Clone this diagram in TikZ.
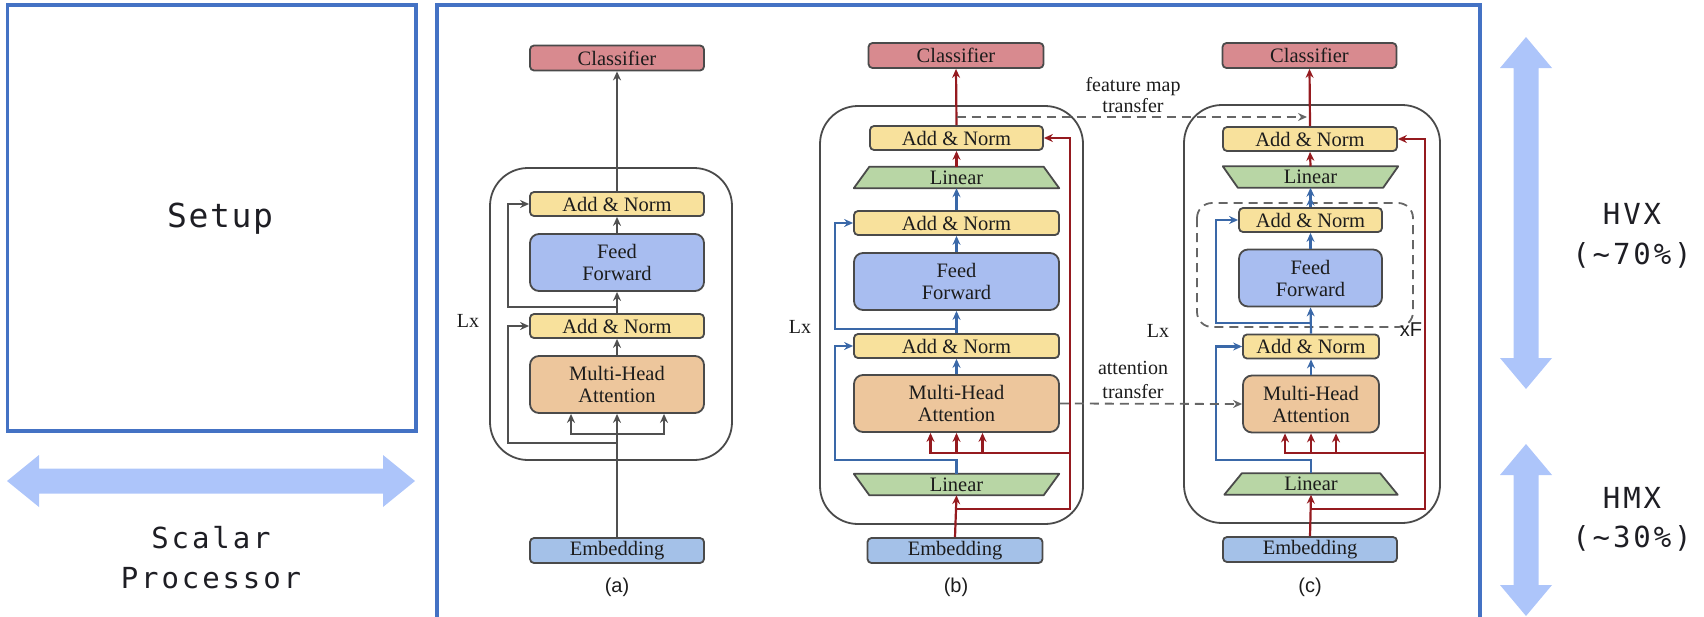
\documentclass[tikz,border=0pt]{standalone}
\usepackage{fontspec}
\setmainfont{Liberation Serif}
\newfontfamily\sansf{Liberation Sans}
\newfontfamily\pixf{DejaVu Sans Mono}[LetterSpace=10]
\newfontfamily\pixbig{DejaVu Sans Mono}[LetterSpace=5]
\usetikzlibrary{arrows.meta,backgrounds}

\definecolor{frameblue}{HTML}{4472C4}
\definecolor{bigarrow}{HTML}{ADC5FA}
\definecolor{pixtext}{HTML}{1E1E24}
\definecolor{txt}{HTML}{1C1C1C}
\definecolor{boxline}{HTML}{4A4A4A}
\definecolor{clsfill}{HTML}{D88A8F}
\definecolor{anfill}{HTML}{F8E19C}
\definecolor{fffill}{HTML}{A8BDF0}
\definecolor{mhafill}{HTML}{EDC69C}
\definecolor{linfill}{HTML}{B8D6A5}
\definecolor{embfill}{HTML}{A4C1E8}
\definecolor{gline}{HTML}{505050}
\definecolor{bline}{HTML}{3A68A8}
\definecolor{rline}{HTML}{951A1F}
\definecolor{dashline}{HTML}{666666}

% trapezoid outline behind a named text node: #2 = inset at top, #3 = inset at bottom
\newcommand\linearshape[3]{%
  \begin{pgfonlayer}{background}
    \filldraw[fill=linfill, draw=boxline, line width=1.8pt, line join=round]
      ([xshift=#2pt]#1.north west) -- ([xshift=-#2pt]#1.north east)
      -- ([xshift=-#3pt]#1.south east) -- ([xshift=#3pt]#1.south west) -- cycle;
  \end{pgfonlayer}}

\begin{document}
\begin{tikzpicture}[x=1pt,y=-1pt,
  tip/.style={-{Stealth[length=9pt,width=8pt,inset=3pt]}},
  ga/.style={tip, draw=gline, line width=2.2pt},
  ba/.style={tip, draw=bline, line width=2.2pt},
  ba2/.style={-{Stealth[length=9pt,width=8pt,inset=3pt] Stealth[length=9pt,width=8pt,inset=3pt]}, draw=bline, line width=2.2pt},
  ra/.style={tip, draw=rline, line width=2.2pt},
  da/.style={tip, draw=dashline, line width=1.8pt, dash pattern=on 9pt off 6pt},
  box/.style={draw=boxline, line width=1.8pt, rounded corners=4pt, inner sep=0pt,
    align=center, text=txt, font=\fontsize{20.5}{22}\selectfont},
  an/.style={box, fill=anfill, minimum height=24pt},
  ff/.style={box, fill=fffill, rounded corners=9pt, minimum height=57pt},
  mha/.style={box, fill=mhafill, rounded corners=9pt, minimum height=57pt},
  cls/.style={box, fill=clsfill, minimum height=25pt},
  emb/.style={box, fill=embfill, minimum height=25pt},
  lin/.style={inner sep=0pt, minimum height=21pt, text=txt, font=\fontsize{20.5}{22}\selectfont},
  cont/.style={draw=boxline, line width=1.8pt, rounded corners=38pt, inner sep=0pt},
  lbl/.style={text=txt, font=\fontsize{20}{22}\selectfont},
  sublbl/.style={text=txt, font=\sansf\fontsize{20}{22}\selectfont},
  pix/.style={text=pixtext, align=center},
]
\useasboundingbox (0,0) rectangle (1704,616);

% ---------- scalar processor side ----------
\node[draw=frameblue, line width=3.5pt, minimum width=408.5pt, minimum height=426pt, inner sep=0pt] (setup) at (211.75,218) {};
\node[pix, font=\pixbig\fontsize{33}{33}\selectfont] (setuptxt) at (220,219) {Setup};
\fill[bigarrow] (7,481) -- (39,455) -- (39,468.5) -- (383,468.5) -- (383,455) -- (415,481)
  -- (383,507) -- (383,493.5) -- (39,493.5) -- (39,507) -- cycle;
\node[pix, font=\pixf\fontsize{29}{40}\selectfont] (scalar) at (211,558) {Scalar\\Processor};

% ---------- vector / matrix units ----------
\node[draw=frameblue, line width=4pt, minimum width=1043pt, minimum height=613.7pt, inner sep=0pt] (panel) at (958.5,312.15) {};
\fill[bigarrow] (1526,37) -- (1552,68) -- (1538.5,68) -- (1538.5,358) -- (1552,358) -- (1526,389)
  -- (1500,358) -- (1513.5,358) -- (1513.5,68) -- (1500,68) -- cycle;
\fill[bigarrow] (1526,444) -- (1552,475) -- (1538.5,475) -- (1538.5,585) -- (1552,585) -- (1526,616)
  -- (1500,585) -- (1513.5,585) -- (1513.5,475) -- (1500,475) -- cycle;
\node[pix, font=\pixf\fontsize{29}{40}\selectfont] (hvx) at (1632,236) {HVX\\(\textasciitilde70\%)};
\node[pix, font=\pixf\fontsize{29}{39}\selectfont] (hmx) at (1632,519) {HMX\\(\textasciitilde30\%)};

% ---------- (a) standard encoder ----------
\node[cont, minimum width=242pt, minimum height=292pt] (conta) at (611,314) {};
\node[cls, minimum width=174pt] (cla) at (617,58) {Classifier};
\node[an,  minimum width=174pt] (ana1) at (617,204) {Add \& Norm};
\node[ff,  minimum width=174pt] (ffa) at (617,262.5) {Feed\\Forward};
\node[an,  minimum width=174pt] (ana2) at (617,326) {Add \& Norm};
\node[mha, minimum width=174pt] (ma) at (617,384.5) {Multi-Head\\Attention};
\node[emb, minimum width=174pt] (ea) at (617,550.5) {Embedding};
\node[lbl] (lxa) at (468,321) {Lx};
\node[sublbl] (suba) at (617,587) {(a)};

\coordinate (splita) at (617,434);
\coordinate (resa1) at (617,443);
\coordinate (resa2) at (617,307);
\draw[ga] (ea.north) -- (ma.south);
\draw[ga] (splita) -| ([xshift=-46pt]ma.south);
\draw[ga] (splita) -| ([xshift=47pt]ma.south);
\draw[ga] (resa1) -| ([xshift=-21pt]ana2.west) -- (ana2.west);
\draw[ga] (ma.north) -- (ana2.south);
\draw[ga] (ana2.north) -- (ffa.south);
\draw[ga] (resa2) -| ([xshift=-21pt]ana1.west) -- (ana1.west);
\draw[ga] (ffa.north) -- (ana1.south);
\draw[ga] (ana1.north) -- (cla.south);

% ---------- (b) teacher with linear projections ----------
\node[cont, minimum width=263pt, minimum height=418pt] (contb) at (951.5,315) {};
\node[cls, minimum width=175pt] (clb) at (956,55.5) {Classifier};
\node[an,  minimum width=173pt] (anb1) at (956.5,138) {Add \& Norm};
\node[lin, minimum width=205pt] (lb2) at (956.5,177.5) {Linear};
\linearshape{lb2}{15.5}{0}
\node[an,  minimum width=205pt] (anb2) at (956.5,223) {Add \& Norm};
\node[ff,  minimum width=205pt] (ffb) at (956.5,281.5) {Feed\\Forward};
\node[an,  minimum width=205pt] (anb3) at (956.5,346) {Add \& Norm};
\node[mha, minimum width=205pt] (mb) at (956.5,403.5) {Multi-Head\\Attention};
\node[lin, minimum width=205pt] (lb1) at (956.5,484.5) {Linear};
\linearshape{lb1}{0}{15.5}
\node[emb, minimum width=175pt] (eb) at (955,550.5) {Embedding};
\node[lbl] (lxb) at (800,327) {Lx};
\node[sublbl] (subb) at (956,587) {(b)};

\coordinate (rbr) at (956.5,509);
\coordinate (rbh) at (1069,453);
\coordinate (bres) at (956.5,329);
\draw[ra] (eb.north) -- (lb1.south);
\draw[ra] (rbr) -| ([xshift=26pt]anb1.east) -- (anb1.east);
\draw[ra] (rbh) -| ([xshift=-26pt]mb.south);
\draw[ra] (rbh) -| (mb.south);
\draw[ra] (rbh) -| ([xshift=26pt]mb.south);
\draw[ba] (lb1.north) -- ++(0,-14) -| ([xshift=-18pt]anb3.west) -- (anb3.west);
\draw[ba] (mb.north) -- (anb3.south);
\draw[ba] (anb3.north) -- (ffb.south);
\draw[ba] (bres) -| ([xshift=-18pt]anb2.west) -- (anb2.west);
\draw[ba] (ffb.north) -- (anb2.south);
\draw[ba] (anb2.north) -- (lb2.south);
\draw[ra] (lb2.north) -- (anb1.south);
\draw[ra] (anb1.north) -- (clb.south);

% ---------- (c) student with repeated feed-forward ----------
\node[cont, minimum width=256pt, minimum height=418pt] (contc) at (1312,314) {};
\draw[draw=dashline, line width=1.8pt, dash pattern=on 9pt off 6pt, rounded corners=15pt]
  (1197,203) rectangle (1413,327);
\node[cls, minimum width=174pt] (clc) at (1309.5,55.5) {Classifier};
\node[an,  minimum width=174pt] (anc1) at (1310,139) {Add \& Norm};
\node[lin, minimum width=175pt] (lc2) at (1310.5,177) {Linear};
\linearshape{lc2}{0}{15}
\node[an,  minimum width=143pt] (anc2) at (1310.5,220) {Add \& Norm};
\node[ff,  minimum width=143pt] (ffc) at (1310.5,278) {Feed\\Forward};
\node[an,  minimum width=136pt] (anc3) at (1311,346.5) {Add \& Norm};
\node[mha, minimum width=136pt] (mc) at (1311,404) {Multi-Head\\Attention};
\node[lin, minimum width=173pt] (lc1) at (1311,484) {Linear};
\linearshape{lc1}{17.5}{0}
\node[emb, minimum width=174pt] (ec) at (1310,549.5) {Embedding};
\node[lbl] (lxc) at (1158,331) {Lx};
\node[sublbl] (xf) at (1411,330) {xF};
\node[sublbl] (subc) at (1310,587) {(c)};

\coordinate (rcr) at (1311,509);
\coordinate (rch) at (1424,453);
\coordinate (cres) at (1310.5,323);
\draw[ra] (ec.north) -- (lc1.south);
\draw[ra] (rcr) -| ([xshift=27pt]anc1.east) -- (anc1.east);
\draw[ra] (rch) -| ([xshift=-26pt]mc.south);
\draw[ra] (rch) -| (mc.south);
\draw[ra] (rch) -| ([xshift=25pt]mc.south);
\draw[ba] (lc1.north) -- ++(0,-13) -| ([xshift=-26pt]anc3.west) -- (anc3.west);
\draw[ba] (mc.north) -- (anc3.south);
\draw[ba] (anc3.north) -- (ffc.south);
\draw[ba] (cres) -| ([xshift=-22pt]anc2.west) -- (anc2.west);
\draw[ba] (ffc.north) -- (anc2.south);
\draw[ba2] (anc2.north) -- (lc2.south);
\draw[ra] (lc2.north) -- (anc1.south);
\draw[ra] (anc1.north) -- (clc.south);

% ---------- knowledge transfer between (b) and (c) ----------
\coordinate (fmb) at (956.5,117);
\coordinate (fmc) at (1307,117);
\draw[da] (fmb) -- (fmc);
\node[lbl, align=center, font=\fontsize{20}{21}\selectfont] (fmtxt) at (1133,95) {feature map\\transfer};
\draw[da] (mb.east) -- (mc.west);
\node[lbl, align=center, font=\fontsize{20}{24}\selectfont] (attxt) at (1133,380) {attention\\transfer};
\end{tikzpicture}
\end{document}
